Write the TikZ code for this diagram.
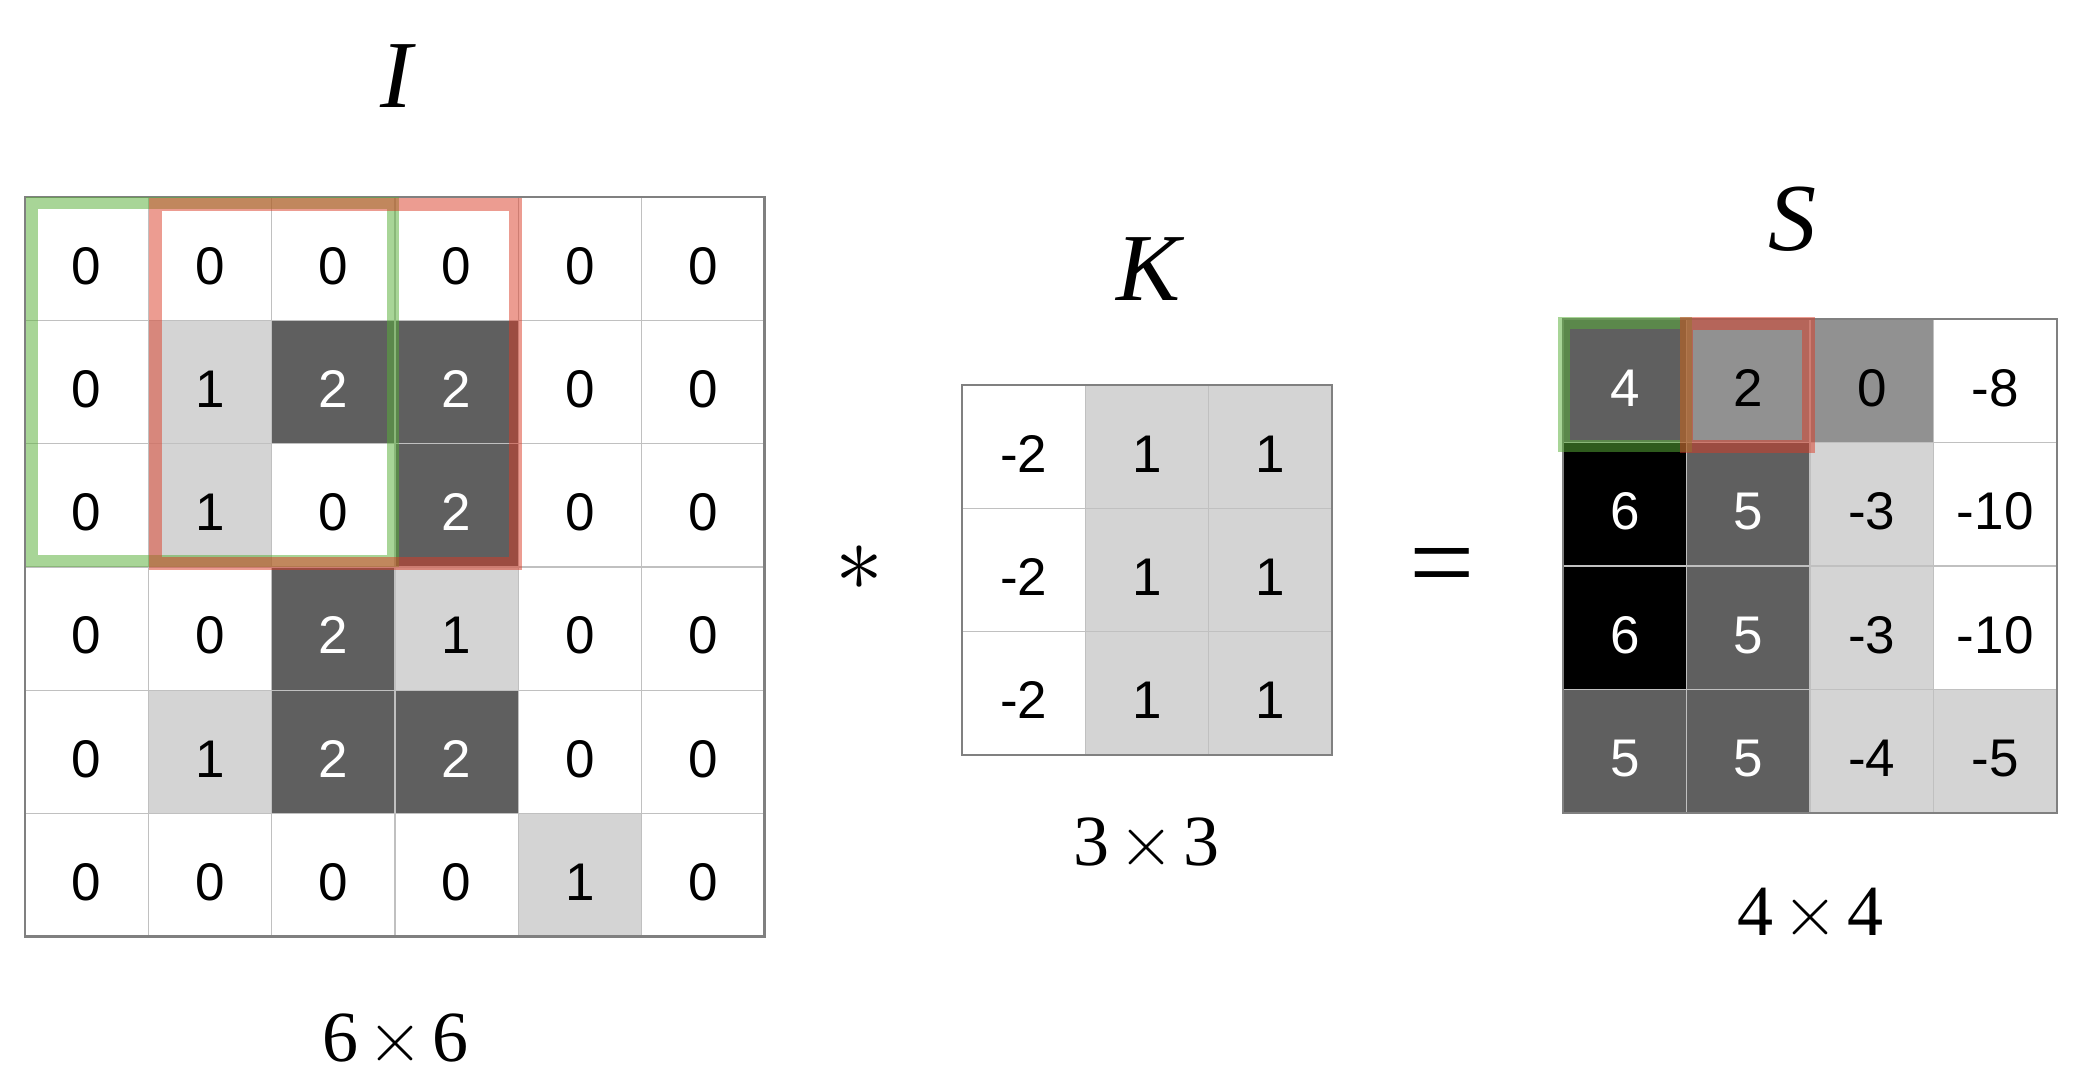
\documentclass[tikz,border=0pt]{standalone}
\usepackage{fix-cm}
\usepackage{fontspec}
\setmainfont{Liberation Serif}
\newfontfamily\cellfont{Liberation Sans}
\definecolor{lgray}{RGB}{212,212,212}
\definecolor{dgray}{RGB}{95,95,95}
\definecolor{mgray}{RGB}{145,145,145}
\definecolor{gridcol}{RGB}{192,192,192}
\definecolor{bordercol}{RGB}{128,128,128}
\definecolor{hlgreen}{RGB}{89,175,57}
\definecolor{hlred}{RGB}{218,59,37}
\tikzset{
  num/.style={font=\cellfont\fontsize{26.5}{30}\selectfont, anchor=base, inner sep=0pt},
  fillw/.style={fill=white}, textw/.style={text=black},
  filll/.style={fill=lgray}, textl/.style={text=black},
  fillm/.style={fill=mgray}, textm/.style={text=black},
  filld/.style={fill=dgray}, textd/.style={text=white},
  fillb/.style={fill=black}, textb/.style={text=white},
  cellbox/.style={draw=gridcol, line width=0.6pt},
  outer/.style={draw=bordercol, line width=1.4pt},
  hlg/.style={draw=hlgreen, draw opacity=0.52, line width=6pt},
  hlr/.style={draw=hlred, draw opacity=0.5, line width=6.5pt},
  biglabel/.style={font=\fontsize{48}{54}\selectfont\itshape, anchor=base, inner sep=0pt},
  dimlabel/.style={font=\fontsize{36}{40}\selectfont, anchor=base, inner sep=0pt},
}
\newcommand\dimtimes{\hspace{4.5pt}$\times$\hspace{4.5pt}}
% #1 name, #2 x0, #3 y0, #4 cell size, #5 rows
\newcommand\drawmat[5]{%
  \foreach \rowlist [count=\r from 0] in {#5} {
    \foreach \v/\s [count=\c from 0] in \rowlist {
      \path[cellbox, fill\s] ({#2+\c*#4},{#3+\r*#4}) rectangle ++(#4,#4);
      \node[num, text\s] (#1-\r-\c) at ({#2+(\c+0.5)*#4},{#3+\r*#4+87}) {\v};
    }
  }
}
\begin{document}
\begin{tikzpicture}[x=0.5pt, y=-0.5pt]
\useasboundingbox[fill=white] (0,0) rectangle (2086,1084);

% Input I
\drawmat{I}{25}{197}{123.3}{
  {0/w,0/w,0/w,0/w,0/w,0/w},
  {0/w,1/l,2/d,2/d,0/w,0/w},
  {0/w,1/l,0/w,2/d,0/w,0/w},
  {0/w,0/w,2/d,1/l,0/w,0/w},
  {0/w,1/l,2/d,2/d,0/w,0/w},
  {0/w,0/w,0/w,0/w,1/l,0/w}}
\draw[outer] (25,197) rectangle ++(739.8,739.8);

% Kernel K
\drawmat{K}{962}{385}{123.3}{
  {-2/w,1/l,1/l},
  {-2/w,1/l,1/l},
  {-2/w,1/l,1/l}}
\draw[outer] (962,385) rectangle ++(369.9,369.9);

% Output S
\drawmat{S}{1563}{319}{123.5}{
  {4/d,2/m,0/m,-8/w},
  {6/b,5/d,-3/l,-10/w},
  {6/b,5/d,-3/l,-10/w},
  {5/d,5/d,-4/l,-5/l}}
\draw[outer] (1563,319) rectangle ++(494,494);

% highlight windows
\draw[hlg] (32,203) rectangle (393,561);
\draw[hlr] (155,204) rectangle (515,563);
\draw[hlg] (1564,323) rectangle (1686,446);
\draw[hlr] (1686,323) rectangle (1808,446);

% labels
\node[biglabel] (lI) at (396,107) {I};
\node[biglabel] (lK) at (1148,300) {K};
\node[biglabel] (lS) at (1792,250) {S};
\node[dimlabel] (dI) at (395,1061) {6\dimtimes 6};
\node[dimlabel] (dK) at (1146,865) {3\dimtimes 3};
\node[dimlabel] (dS) at (1810,935) {4\dimtimes 4};
\node[anchor=base, inner sep=0pt, font=\fontsize{48}{54}\selectfont] (conv) at (859,590) {$\ast$};
\node[anchor=base, inner sep=0pt, font=\fontsize{58}{62}\selectfont] (eq) at (1442,601) {=};
\end{tikzpicture}
\end{document}
